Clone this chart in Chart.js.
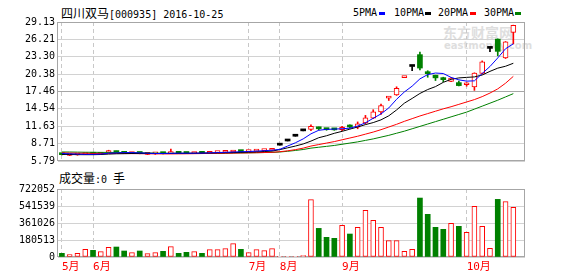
<!DOCTYPE html>
<html>
<head>
<meta charset="utf-8">
<script src="https://cdn.jsdelivr.net/npm/chart.js@4.4.0/dist/chart.umd.min.js"></script>
<style>
body { margin: 0; background: #fff; }
#box { position: relative; width: 578px; height: 276px; overflow: hidden; font-family: "DejaVu Sans Mono", monospace; font-size: 10px; color: #000; }
.t { position: absolute; white-space: nowrap; line-height: 14px; }
.cjk { font-family: "Noto Sans CJK SC"; font-size: 12px; }
.sq { position: absolute; width: 6px; height: 3px; top: 12px; }
.wm { position: absolute; white-space: nowrap; color: #dedede; font-weight: bold; }
canvas { position: absolute; left: 0; }
</style>
</head>
<body>
<div id="box">
  <div class="t" style="left:61px;top:6px"><span class="cjk">四川双马</span>[000935] 2016-10-25</div>
  <div class="t" style="left:353px;top:6px">5PMA</div><div class="sq" style="left:379px;background:#0000ff"></div>
  <div class="t" style="left:394px;top:6px">10PMA</div><div class="sq" style="left:425px;background:#000"></div>
  <div class="t" style="left:438px;top:6px">20PMA</div><div class="sq" style="left:470px;background:#ff0000"></div>
  <div class="t" style="left:484px;top:6px">30PMA</div><div class="sq" style="left:515px;background:#008000"></div>
  <div class="wm" style="left:443px;top:24px;font-family:'Noto Sans CJK SC';font-size:14px;line-height:16px">东方财富网</div>
  <div class="wm" style="left:444px;top:40px;font-family:'DejaVu Sans';font-size:10px;line-height:11px">eastmoney.com</div>
  <div class="t" style="left:59px;top:171px"><span class="cjk">成交量</span>:0 <span class="cjk">手</span></div>
  <canvas id="price" width="578" height="170" style="top:0"></canvas>
  <canvas id="vol" width="578" height="96" style="top:180px"></canvas>
</div>
<script>
// month labels and the bar where each month starts
const months = ["5月", "6月", "7月", "8月", "9月", "10月"];
const monthStart = [0, 4, 24, 28, 36, 52];
const slots = 60;

const opens  = [6.95, 6.72, 6.80, 6.88, 7.00, 6.92, 7.22, 7.40, 7.18, 7.05,
                7.12, 6.90, 6.98, 7.08, 7.02, 7.15, 7.10, 7.05, 7.14, 7.08,
                7.20, 7.26, 7.30, 7.42, 7.36, 7.46, 7.52, 7.60, 8.45, 9.15,
                9.95, 10.85, 11.10, 11.35, 11.15, 11.10, 11.05, 11.60, 11.45, 12.20,
                13.00, 14.05, 16.35, 16.90, 19.80, 21.66, 23.65, 20.60, 20.20, 19.55,
                19.15, 18.95, 18.60, 18.25, 20.50, 24.70, 26.25, 23.10, 27.40];
const highs  = [7.00, 6.82, 6.92, 7.02, 7.05, 7.06, 7.60, 7.45, 7.22, 7.15,
                7.15, 7.00, 7.08, 7.10, 7.78, 7.20, 7.12, 7.20, 7.18, 7.38,
                7.30, 7.36, 7.48, 7.45, 7.50, 7.58, 7.64, 7.72, 8.45, 9.15,
                9.95, 10.85, 11.85, 11.50, 11.25, 11.20, 11.60, 11.85, 12.35, 13.45,
                14.40, 15.35, 16.60, 18.25, 19.86, 21.66, 24.10, 20.95, 20.20, 19.86,
                19.80, 19.20, 18.95, 20.60, 22.60, 24.70, 26.30, 25.85, 28.60];
const lows   = [6.80, 6.68, 6.76, 6.85, 6.88, 6.90, 7.20, 7.15, 7.05, 7.02,
                7.00, 6.85, 6.90, 6.98, 7.00, 7.04, 7.02, 7.03, 7.05, 7.06,
                7.16, 7.22, 7.28, 7.32, 7.34, 7.44, 7.50, 7.58, 8.45, 9.15,
                9.95, 10.85, 10.90, 11.00, 10.95, 10.95, 10.90, 11.30, 11.20, 12.00,
                12.90, 13.60, 15.95, 16.80, 19.80, 20.94, 21.10, 19.85, 19.30, 19.10,
                19.10, 18.40, 18.35, 17.65, 20.40, 24.15, 23.45, 23.00, 25.45];
const closes = [6.85, 6.78, 6.88, 6.98, 6.92, 7.02, 7.50, 7.20, 7.08, 7.12,
                7.05, 6.98, 7.03, 7.02, 7.10, 7.08, 7.05, 7.12, 7.08, 7.20,
                7.26, 7.32, 7.40, 7.36, 7.46, 7.54, 7.60, 7.66, 8.45, 9.15,
                9.95, 10.85, 11.60, 11.20, 11.05, 11.02, 11.45, 11.50, 12.05, 13.05,
                14.05, 15.10, 16.60, 18.00, 19.86, 21.66, 21.40, 20.45, 19.75, 19.45,
                19.70, 18.45, 18.68, 20.55, 22.45, 24.70, 24.20, 25.80, 28.55];
const volumes = [38900, 24800, 39000, 81400, 70800, 56600, 102600, 106000, 63700, 46000,
                 63700, 35400, 46000, 60000, 110000, 39000, 49500, 56600, 39000, 78000,
                 78000, 88500, 141600, 81400, 46000, 78000, 67000, 88500, 7000, 7000,
                 7000, 14000, 608800, 304000, 208800, 198000, 336000, 244000, 315000, 495500,
                 389000, 315000, 173400, 173400, 60000, 81400, 626000, 453000, 315000, 293700,
                 357500, 325600, 262000, 538000, 325600, 92000, 612000, 587500, 527400];
const ma5  = [7.05, 7.00, 6.95, 6.90, 6.90, 6.95, 7.10, 7.15, 7.20, 7.20,
              7.15, 7.10, 7.05, 7.05, 7.08, 7.10, 7.10, 7.10, 7.12, 7.15,
              7.20, 7.25, 7.30, 7.35, 7.38, 7.45, 7.52, 7.60, 7.75, 8.30,
              8.85, 9.50, 10.35, 10.95, 11.10, 11.15, 11.20, 11.30, 11.66, 12.20,
              12.97, 13.70, 14.70, 16.15, 17.38, 18.36, 19.58, 20.30, 20.56, 20.48,
              19.83, 19.42, 19.20, 19.25, 20.48, 21.66, 23.10, 24.64, 25.46];
const ma10 = [6.90, 6.88, 6.86, 6.85, 6.85, 6.88, 6.95, 7.00, 7.02, 7.05,
              7.06, 7.06, 7.05, 7.05, 7.06, 7.08, 7.08, 7.10, 7.12, 7.14,
              7.16, 7.18, 7.20, 7.24, 7.28, 7.33, 7.38, 7.45, 7.70, 8.00,
              8.30, 8.65, 9.13, 9.70, 10.03, 10.44, 10.77, 11.14, 11.50, 11.90,
              12.24, 12.70, 13.38, 14.36, 15.50, 16.30, 17.13, 17.79, 18.28, 19.00,
              19.50, 19.74, 19.83, 19.91, 20.23, 20.84, 21.38, 21.70, 22.20];
const ma20 = [7.15, 7.12, 7.10, 7.08, 7.06, 7.05, 7.05, 7.05, 7.04, 7.03,
              7.02, 7.00, 6.99, 6.98, 6.98, 6.99, 7.00, 7.02, 7.04, 7.06,
              7.08, 7.10, 7.12, 7.14, 7.16, 7.18, 7.21, 7.25, 7.35, 7.50,
              7.70, 7.95, 8.30, 8.55, 8.80, 9.05, 9.35, 9.65, 9.95, 10.30,
              10.65, 11.05, 11.50, 11.95, 12.45, 12.90, 13.35, 13.75, 14.15, 14.55,
              14.90, 15.30, 15.70, 16.10, 16.60, 17.20, 17.90, 18.85, 20.00];
const ma30 = [7.30, 7.30, 7.28, 7.26, 7.25, 7.24, 7.23, 7.22, 7.20, 7.18,
              7.16, 7.14, 7.12, 7.10, 7.08, 7.07, 7.06, 7.06, 7.06, 7.07,
              7.08, 7.10, 7.13, 7.15, 7.17, 7.19, 7.21, 7.23, 7.30, 7.42,
              7.56, 7.72, 7.95, 8.10, 8.25, 8.40, 8.60, 8.80, 9.00, 9.25,
              9.50, 9.80, 10.10, 10.45, 10.80, 11.20, 11.60, 12.00, 12.40, 12.80,
              13.20, 13.60, 14.00, 14.50, 15.00, 15.50, 16.00, 16.55, 17.10];

const priceTicks = [5.79, 8.71, 11.63, 14.54, 17.46, 20.38, 23.30, 26.21, 29.13];
const volTicks = [0, 180513, 361026, 541539, 722052];

const RED = "#ff0000", GREEN = "#008000", BLUE = "#0000ff";
const MONO = "'DejaVu Sans Mono', 'Noto Sans CJK SC', monospace";

const labels = [];
for (let i = 0; i < slots; i++) {
  const m = monthStart.indexOf(i);
  labels.push(m >= 0 ? months[m] : "");
}

// 1 up, -1 down, 0 doji
function dir(i) {
  if (closes[i] > opens[i]) return 1;
  if (closes[i] < opens[i]) return -1;
  return 0;
}
function volUp(i) {
  const d = dir(i);
  return d > 0 || (d === 0 && i > 0 && closes[i] >= closes[i - 1]);
}

// grey box round the plot area
const frame = {
  id: "frame",
  beforeDatasetsDraw(chart) {
    const a = chart.chartArea, c = chart.ctx;
    c.save();
    c.strokeStyle = "#a6a6a6";
    c.lineWidth = 1;
    c.strokeRect(a.left - 0.5, a.top + 0.5, a.right - a.left, a.bottom - a.top - 1);
    c.restore();
  }
};

const monthGrid = {
  offset: false,
  drawTicks: false,
  color: ctx => labels[ctx.index] ? "#c8c8c8" : "rgba(0,0,0,0)"
};

function maLine(data, color) {
  return { type: "line", data: data, borderColor: color, borderWidth: 1,
           pointRadius: 0, tension: 0, order: 0 };
}

new Chart(document.getElementById("price"), {
  type: "bar",
  data: {
    labels: labels,
    datasets: [
      maLine(ma5, BLUE), maLine(ma10, "#000"), maLine(ma20, RED), maLine(ma30, GREEN),
      {
        data: opens.map((o, i) => [o, closes[i]]),
        grouped: false, order: 1, barThickness: 5, minBarLength: 2, borderSkipped: false,
        backgroundColor: ctx => { const d = dir(ctx.dataIndex); return d > 0 ? "#fff" : d < 0 ? GREEN : "#000"; },
        borderColor: ctx => { const d = dir(ctx.dataIndex); return d > 0 ? RED : d < 0 ? GREEN : "#000"; },
        borderWidth: ctx => dir(ctx.dataIndex) > 0 ? 1 : 0
      },
      {
        data: lows.map((l, i) => [l, highs[i]]),
        grouped: false, order: 2, barThickness: 1, minBarLength: 1,
        backgroundColor: ctx => { const d = dir(ctx.dataIndex); return d > 0 ? RED : d < 0 ? GREEN : "#000"; }
      }
    ]
  },
  options: {
    responsive: false, animation: false, events: [],
    layout: { padding: { top: 22, right: 53, bottom: 4, left: 0 } },
    plugins: { legend: { display: false }, tooltip: { enabled: false } },
    scales: {
      x: {
        offset: true, grid: monthGrid, border: { display: false, dash: [4, 3] },
        ticks: { display: false, autoSkip: false },
        afterFit: a => { a.height = 0; }
      },
      y: {
        min: 5.79, max: 29.13,
        afterBuildTicks: a => { a.ticks = priceTicks.map(v => ({ value: v })); },
        ticks: { callback: v => v.toFixed(2), color: "#000", padding: 3, font: { family: MONO, size: 10 } },
        grid: { drawTicks: false, color: ctx => ctx.index === 4 ? "#a6a6a6" : "#d2d2d2" },
        border: { display: false },
        afterFit: a => { a.width = 58; }
      }
    }
  },
  plugins: [frame]
});

new Chart(document.getElementById("vol"), {
  type: "bar",
  data: {
    labels: labels,
    datasets: [{
      data: volumes,
      barThickness: 5, borderSkipped: false,
      backgroundColor: ctx => volUp(ctx.dataIndex) ? "#fff" : GREEN,
      borderColor: ctx => volUp(ctx.dataIndex) ? RED : GREEN,
      borderWidth: ctx => volUp(ctx.dataIndex) ? 1 : 0
    }]
  },
  options: {
    responsive: false, animation: false, events: [],
    layout: { padding: { top: 9, right: 53, bottom: 0, left: 0 } },
    plugins: { legend: { display: false }, tooltip: { enabled: false } },
    scales: {
      x: {
        offset: true, grid: monthGrid, border: { display: false, dash: [4, 3] },
        ticks: { autoSkip: false, maxRotation: 0, align: "start", padding: 4, color: RED,
                 font: { family: MONO, size: 11 } },
        afterFit: a => { a.height = 19; }
      },
      y: {
        min: 0, max: 722052,
        afterBuildTicks: a => { a.ticks = volTicks.map(v => ({ value: v })); },
        ticks: { callback: v => String(v), color: "#000", padding: 3, font: { family: MONO, size: 10 } },
        grid: { drawTicks: false, color: "#d2d2d2" },
        border: { display: false },
        afterFit: a => { a.width = 58; }
      }
    }
  },
  plugins: [frame]
});
</script>
</body>
</html>
